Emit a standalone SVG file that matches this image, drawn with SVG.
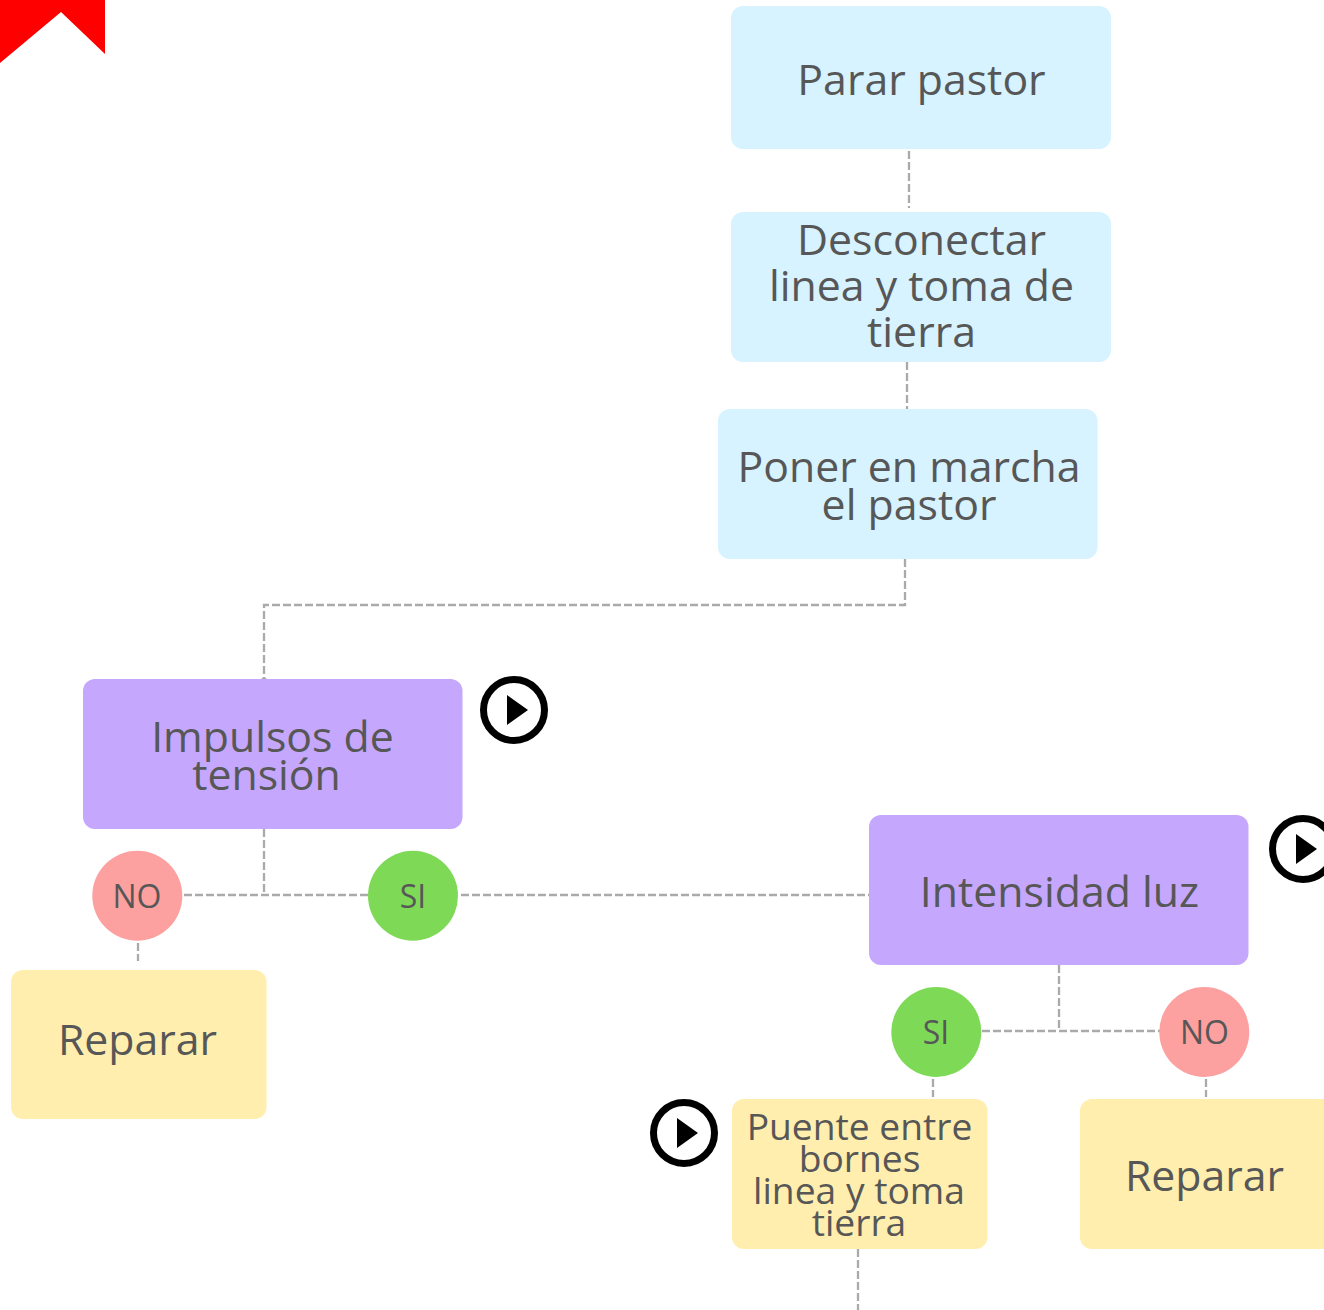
<svg xmlns="http://www.w3.org/2000/svg" width="1324" height="1310" viewBox="0 0 1324 1310">
<style>
text{font-family:"Open Sans","Noto Sans",sans-serif;fill:#575757;text-anchor:middle}
.t{font-size:42.800px}
.s{font-size:37.200px}
.c{font-size:32px}
.blue{fill:#d6f3ff}.pur{fill:#c5a7fd}.yel{fill:#ffeeae}
.line{fill:none;stroke:#aaa;stroke-width:2.300;stroke-dasharray:8 3}
.ring{fill:none;stroke:#000;stroke-width:7}
</style>
<rect width="1324" height="1310" fill="#fff"/>
<polygon points="0,0 105,0 105,54 61,12 0,63" fill="#ff0000"/>
<g id="connectors">
<path class="line" d="M909 151V208"/>
<path class="line" d="M907 362V409"/>
<path class="line" d="M905 559V605H264V679"/>
<polygon points="264,677 268,679.500 260,679.500" fill="#aaa"/>
<path class="line" d="M264 829V895"/>
<path class="line" d="M184 895H368"/>
<path class="line" d="M461 895H869"/>
<path class="line" d="M138 943V961"/>
<path class="line" d="M1059 965V1031"/>
<path class="line" d="M982 1031H1160"/>
<path class="line" d="M933 1079V1097"/>
<path class="line" d="M1206 1079V1097"/>
<path class="line" d="M858 1249V1310"/>
</g>
<g id="n1"><rect class="blue" x="731" y="6" width="380" height="143" rx="12"/><text class="t" x="921.500" y="95">Parar pastor</text></g>
<g id="n2"><rect class="blue" x="731" y="212" width="380" height="150" rx="12"/><text class="t" x="921.500" y="255">Desconectar</text><text class="t" x="921.500" y="301">linea y toma de</text><text class="t" x="921.500" y="347">tierra</text></g>
<g id="n3"><rect class="blue" x="718" y="409" width="379.500" height="150" rx="12"/><text class="t" x="909" y="482">Poner en marcha</text><text class="t" x="909" y="520">el pastor</text></g>
<g id="n4"><rect class="pur" x="83" y="679" width="379.500" height="150" rx="12"/><text class="t" x="272.500" y="752">Impulsos de</text><text class="t" x="266.500" y="790">tensión</text></g>
<g id="n5"><rect class="pur" x="869" y="815" width="379.500" height="150" rx="12"/><text class="t" x="1059.500" y="907">Intensidad luz</text></g>
<g id="n6"><circle cx="137.300" cy="895.700" r="45" fill="#fca0a0"/><text class="c" x="137" y="908">NO</text></g>
<g id="n7"><circle cx="413" cy="895.700" r="45" fill="#7ed957"/><text class="c" x="413" y="908">SI</text></g>
<g id="n8"><circle cx="936.300" cy="1032" r="45" fill="#7ed957"/><text class="c" x="936" y="1044">SI</text></g>
<g id="n9"><circle cx="1204.300" cy="1032" r="45" fill="#fca0a0"/><text class="c" x="1204.500" y="1044">NO</text></g>
<g id="n10"><rect class="yel" x="11" y="970" width="255.500" height="149" rx="12"/><text class="t" x="137.500" y="1055">Reparar</text></g>
<g id="n11"><rect class="yel" x="732" y="1099" width="255.500" height="150" rx="12"/><text class="s" x="859.500" y="1140">Puente entre</text><text class="s" x="859.500" y="1172">bornes</text><text class="s" x="859" y="1204">linea y toma</text><text class="s" x="859" y="1236">tierra</text></g>
<g id="n12"><rect class="yel" x="1080" y="1099" width="256" height="150" rx="12"/><text class="t" x="1204.500" y="1191">Reparar</text></g>
<g id="play1"><circle class="ring" cx="514" cy="710" r="30.500"/><polygon points="507,695 507,725 528,710"/></g>
<g id="play2"><circle class="ring" cx="1303" cy="849" r="30.500"/><polygon points="1296,834 1296,864 1317,849"/></g>
<g id="play3"><circle class="ring" cx="684" cy="1133" r="30.500"/><polygon points="677,1118 677,1148 698,1133"/></g>
</svg>
